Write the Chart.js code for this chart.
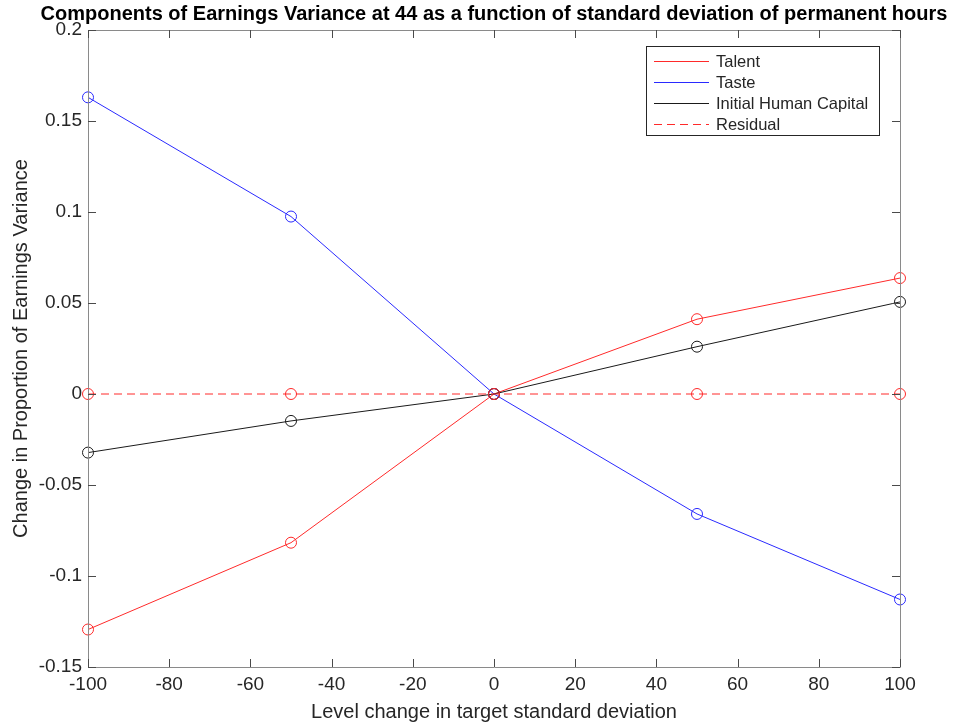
<!DOCTYPE html>
<html>
<head>
<meta charset="utf-8">
<script src="https://cdn.jsdelivr.net/npm/chart.js@4.4.1/dist/chart.umd.min.js"></script>
<style>
  html, body { margin: 0; padding: 0; background: #fff; }
  #wrap { width: 963px; height: 725px; }
</style>
</head>
<body>
<div id="wrap"><canvas id="c" width="963" height="725"></canvas></div>
<script>
const chartTitle = 'Components of Earnings Variance at 44 as a function of standard deviation of permanent hours';
const xAxisTitle = 'Level change in target standard deviation';
const yAxisTitle = 'Change in Proportion of Earnings Variance';

const xValues = [-100, -50, 0, 50, 100];
const talent = [-0.1294, -0.0817, 0, 0.0411, 0.0637];
const taste = [0.1630, 0.0975, 0, -0.0659, -0.1129];
const initialHumanCapital = [-0.0322, -0.0148, 0, 0.0260, 0.0506];
const residual = [0, 0, 0, 0, 0];

const seriesNames = ['Talent', 'Taste', 'Initial Human Capital', 'Residual'];

const xTickValues = [-100, -80, -60, -40, -20, 0, 20, 40, 60, 80, 100];
const xTickLabels = ['-100', '-80', '-60', '-40', '-20', '0', '20', '40', '60', '80', '100'];
const yTickValues = [-0.15, -0.1, -0.05, 0, 0.05, 0.1, 0.15, 0.2];
const yTickLabels = ['-0.15', '-0.1', '-0.05', '0', '0.05', '0.1', '0.15', '0.2'];

const FONT = '"Liberation Sans", Helvetica, Arial, sans-serif';
const AXIS_COLOR = '#262626';
const BOX_COLOR = '#8a8a8a';
const TICK_COLOR = '#4a4a4a';

function pts(ys) { return xValues.map((x, i) => ({ x: x, y: ys[i] })); }

function ds(label, ys, color, dash, order) {
  return {
    label: label,
    data: pts(ys),
    borderColor: color,
    borderWidth: 1,
    borderDash: dash,
    pointStyle: 'circle',
    pointRadius: 5.5,
    pointHoverRadius: 5.5,
    pointBorderWidth: 1,
    pointBorderColor: color,
    pointBackgroundColor: 'rgba(0,0,0,0)',
    tension: 0,
    clip: false,
    order: order
  };
}

const styles = [
  { color: '#ff2a2a', dash: [] },
  { color: '#2a2aff', dash: [] },
  { color: '#1a1a1a', dash: [] },
  { color: '#ff2a2a', dash: [8, 5] }
];

const framePlugin = {
  id: 'frame',
  afterDraw(chart) {
    const ctx = chart.ctx;
    const a = chart.chartArea;
    const xs = chart.scales.x, ys = chart.scales.y;
    ctx.save();
    // box
    ctx.strokeStyle = BOX_COLOR;
    ctx.lineWidth = 1;
    ctx.beginPath();
    ctx.rect(Math.round(a.left) + 0.5, Math.round(a.top) + 0.5, Math.round(a.right - a.left), Math.round(a.bottom - a.top));
    ctx.stroke();
    // inward ticks on all sides
    const tl = 8;
    ctx.strokeStyle = TICK_COLOR;
    ctx.beginPath();
    xTickValues.forEach(v => {
      const px = Math.round(xs.getPixelForValue(v)) + 0.5;
      ctx.moveTo(px, a.bottom); ctx.lineTo(px, a.bottom - tl);
      ctx.moveTo(px, a.top); ctx.lineTo(px, a.top + tl);
    });
    yTickValues.forEach(v => {
      const py = Math.round(ys.getPixelForValue(v)) + 0.5;
      ctx.moveTo(a.left, py); ctx.lineTo(a.left + tl, py);
      ctx.moveTo(a.right, py); ctx.lineTo(a.right - tl, py);
    });
    ctx.stroke();

    // title (bold, condensed to the reference width)
    ctx.fillStyle = '#000';
    ctx.font = 'bold 20px ' + FONT;
    ctx.textAlign = 'center';
    ctx.textBaseline = 'middle';
    const cx = (a.left + a.right) / 2;
    const w = ctx.measureText(chartTitle).width;
    const target = 922;
    const sx = Math.min(1, target / w);
    ctx.save();
    ctx.translate(cx, 14);
    ctx.scale(sx, 1);
    ctx.fillText(chartTitle, 0, 0);
    ctx.restore();

    // axis titles
    ctx.fillStyle = AXIS_COLOR;
    ctx.font = '20px ' + FONT;
    ctx.fillText(xAxisTitle, cx, 712);
    ctx.save();
    ctx.translate(21, (a.top + a.bottom) / 2);
    ctx.rotate(-Math.PI / 2);
    ctx.fillText(yAxisTitle, 0, 0);
    ctx.restore();

    // legend
    const lx = 646, ly = 46, lw = 233, lh = 89;
    ctx.fillStyle = '#fff';
    ctx.fillRect(lx, ly, lw, lh);
    ctx.strokeStyle = AXIS_COLOR;
    ctx.lineWidth = 1;
    ctx.strokeRect(lx + 0.5, ly + 0.5, lw, lh);
    ctx.font = '16.5px ' + FONT;
    ctx.textAlign = 'left';
    ctx.textBaseline = 'middle';
    seriesNames.forEach((name, i) => {
      const y = ly + 15 + i * 21;
      ctx.save();
      ctx.strokeStyle = styles[i].color;
      ctx.lineWidth = 1;
      ctx.setLineDash(styles[i].dash);
      ctx.beginPath();
      ctx.moveTo(654, y + 0.5);
      ctx.lineTo(709, y + 0.5);
      ctx.stroke();
      ctx.restore();
      ctx.fillStyle = AXIS_COLOR;
      ctx.fillText(name, 716, y + 1);
    });
    ctx.restore();
  }
};

const datasets = [
  ds(seriesNames[0], talent, styles[0].color, styles[0].dash, 3),
  ds(seriesNames[1], taste, styles[1].color, styles[1].dash, 2),
  ds(seriesNames[2], initialHumanCapital, styles[2].color, styles[2].dash, 1),
  ds(seriesNames[3], residual, styles[3].color, styles[3].dash, 0)
];

new Chart(document.getElementById('c'), {
  type: 'line',
  data: { datasets: datasets },
  options: {
    responsive: false,
    animation: false,
    devicePixelRatio: 1,
    layout: { padding: { left: 0, right: 63, top: 30, bottom: 0 } },
    plugins: {
      legend: { display: false },
      title: { display: false },
      tooltip: { enabled: false }
    },
    scales: {
      x: {
        type: 'linear',
        min: -100,
        max: 100,
        afterBuildTicks: s => { s.ticks = xTickValues.map(v => ({ value: v })); },
        afterFit: s => { s.height = 58; },
        grid: { display: false, drawTicks: false },
        border: { display: false },
        ticks: {
          padding: 6,
          color: AXIS_COLOR,
          font: { family: FONT, size: 19 },
          maxRotation: 0,
          autoSkip: false,
          callback: (v, i) => xTickLabels[i]
        }
      },
      y: {
        type: 'linear',
        min: -0.15,
        max: 0.2,
        afterBuildTicks: s => { s.ticks = yTickValues.map(v => ({ value: v })); },
        afterFit: s => { s.width = 88; },
        grid: { display: false, drawTicks: false },
        border: { display: false },
        ticks: {
          padding: 6,
          color: AXIS_COLOR,
          font: { family: FONT, size: 19 },
          autoSkip: false,
          callback: (v, i) => yTickLabels[i]
        }
      }
    }
  },
  plugins: [framePlugin]
});
</script>
</body>
</html>
